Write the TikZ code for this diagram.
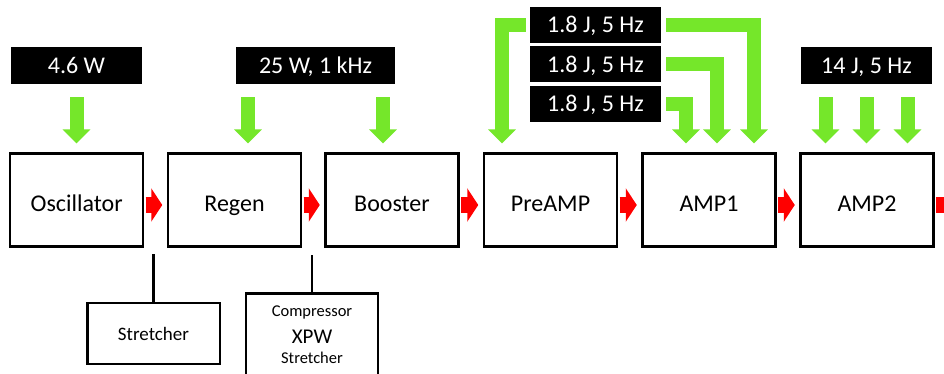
\documentclass[tikz,border=0pt]{standalone}
\usepackage{fontspec}
\setmainfont{Carlito}
\usetikzlibrary{arrows.meta,calc}
\definecolor{pumpgreen}{RGB}{117,231,42}
\begin{document}
\begin{tikzpicture}[x=1pt,y=-1pt,
  stage/.style={draw, line width=2.5pt, minimum width=133pt, minimum height=92.5pt,
    inner sep=0pt, font=\fontsize{24}{28}\selectfont, text height=23.5pt, text depth=0pt},
  sidebox/.style={draw, line width=2.5pt, minimum width=132.5pt, minimum height=61pt,
    inner sep=0pt, font=\fontsize{19}{22}\selectfont},
  tag/.style={fill=black, text=white, minimum width=131pt, minimum height=37pt,
    inner sep=0pt, font=\fontsize{24}{28}\selectfont, text height=15.5pt, text depth=0pt},
  small/.style={anchor=base, inner sep=0pt, font=\fontsize{16.5}{19}\selectfont},
  tie/.style={line width=2.5pt},
  pump/.style={draw=pumpgreen, line width=14pt, line join=miter,
    -{Triangle[width=27pt,length=14pt]}, shorten >=9pt},
  beam/.style={draw=red, line width=16pt,
    -{Triangle[width=33pt,length=11pt]}, shorten <=1.25pt, shorten >=4.5pt}]

\fill[white] (0,0) rectangle (944,374);
\clip (0,0) rectangle (944,374);

% amplifier chain
\node[stage] (osc)   at (76.7,200) {Oscillator};
\node[stage] (regen) at (234.5,200) {Regen};
\node[stage] (boost) at (392,200)   {Booster};
\node[stage] (pre)   at (550.5,200) {PreAMP};
\node[stage] (amp1)  at (709,200)   {AMP1};
\node[stage] (amp2)  at (867,200)   {AMP2};

% pump sources
\node[tag] (t46) at (76.5,65.5) {4.6 W};
\node[tag, minimum width=159pt] (t25) at (315.5,65.5) {25 W, 1 kHz};
\node[tag, minimum height=36pt] (t18a) at (595.5,25)   {1.8 J, 5 Hz};
\node[tag, minimum height=36pt] (t18b) at (595.5,64.5) {1.8 J, 5 Hz};
\node[tag, minimum height=36pt] (t18c) at (595.5,104)  {1.8 J, 5 Hz};
\node[tag] (t14) at (866.5,65.5) {14 J, 5 Hz};

% stretcher / compressor units
\node[sidebox] (str) at (153.5,333.7) {Stretcher};
\node[draw, line width=2.5pt, minimum width=132pt, minimum height=130pt,
  inner sep=0pt, anchor=north] (cmp) at (312,292.3) {};
\node[small] (cmpa) at (312,316) {Compressor};
\node[small, font=\fontsize{21}{24}\selectfont] (cmpb) at (312,343) {XPW};
\node[small] (cmpc) at (312,363) {Stretcher};

\draw[tie] (str.north) -- ++(0,-48.3);
\draw[tie] (cmp.north) -- ++(0,-37.3);

% pump arrows
\draw[pump] ($(t46.south)+(0,13)$) -- (t46.south |- osc.north);
\draw[pump] ($(t25.south)+(-67.5,13)$) -- ($(t25.south |- regen.north)+(-67.5,0)$);
\draw[pump] ($(t25.south)+(67.5,13)$) -- ($(t25.south |- boost.north)+(67.5,0)$);
\draw[pump] ([xshift=-4pt]t18a.west) -| ($(pre.north)+(-48.5,0)$);
\draw[pump] ([xshift=5pt]t18a.east) -| ($(amp1.north)+(45,0)$);
\draw[pump] ([xshift=5pt]t18b.east) -| ($(amp1.north)+(8,0)$);
\draw[pump] ([xshift=5pt]t18c.east) -| ($(amp1.north)+(-23,0)$);
\draw[pump] ($(t14.south)+(-41,13)$) -- ($(t14.south |- amp2.north)+(-41,0)$);
\draw[pump] ($(t14.south)+(0,13)$) -- (t14.south |- amp2.north);
\draw[pump] ($(t14.south)+(41,13)$) -- ($(t14.south |- amp2.north)+(41,0)$);

% beam path
\coordinate (out) at (975,205);
\draw[beam] ([yshift=-5pt]osc.east)   -- ([yshift=-5pt]regen.west);
\draw[beam] ([yshift=-5pt]regen.east) -- ([yshift=-5pt]boost.west);
\draw[beam] ([yshift=-5pt]boost.east) -- ([yshift=-5pt]pre.west);
\draw[beam] ([yshift=-5pt]pre.east)   -- ([yshift=-5pt]amp1.west);
\draw[beam] ([yshift=-5pt]amp1.east)  -- ([yshift=-5pt]amp2.west);
\draw[beam] ([yshift=-5pt]amp2.east)  -- (out);
\end{tikzpicture}
\end{document}
